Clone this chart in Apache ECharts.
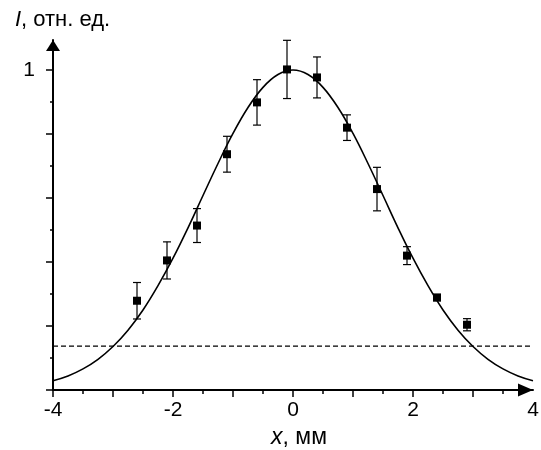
<!DOCTYPE html>
<html>
<head>
<meta charset="utf-8">
<script src="https://cdn.jsdelivr.net/npm/echarts@6/dist/echarts.min.js"></script>
<style>
  html, body { margin: 0; padding: 0; background: #fff; }
  #chart { width: 541px; height: 450px; }
</style>
</head>
<body>
<div id="chart"></div>
<script>
// Measured points
var pointX = [-2.6, -2.1, -1.6, -1.1, -0.6, -0.1, 0.4, 0.9, 1.4, 1.9, 2.4, 2.9];
var pointY = [0.279, 0.405, 0.514, 0.737, 0.899, 1.002, 0.977, 0.820, 0.628, 0.420, 0.289, 0.204];
var pointErr = [0.057, 0.058, 0.053, 0.056, 0.071, 0.091, 0.064, 0.040, 0.068, 0.028, 0.010, 0.019];

// Fitted curve
var curveX = [-4, -3.75, -3.5, -3.25, -3, -2.75, -2.5, -2.25, -2, -1.75, -1.5, -1.25, -1, -0.75, -0.5, -0.25,
              0, 0.25, 0.5, 0.75, 1, 1.25, 1.5, 1.75, 2, 2.25, 2.5, 2.75, 3, 3.25, 3.5, 3.75, 4];
var curveY = [0.029, 0.044, 0.066, 0.096, 0.136, 0.187, 0.250, 0.326, 0.412, 0.507, 0.608, 0.708, 0.802, 0.883, 0.946, 0.986,
              1.000, 0.986, 0.946, 0.883, 0.802, 0.708, 0.608, 0.507, 0.412, 0.326, 0.250, 0.187, 0.136, 0.096, 0.066, 0.044, 0.029];

// Dashed level (1/e^2)
var levelX = [-4, 4];
var levelY = 0.137;

// Tick values
var xMajorTicks = [-4, -3, -2, -1, 0, 1, 2, 3];
var xMinorTicks = [-3.5, -2.5, -1.5, -0.5, 0.5, 1.5, 2.5, 3.5];
var xTickLabels = [-4, -2, 0, 2, 4];
var yMajorTicks = [0, 0.2, 0.4, 0.6, 0.8, 1.0];
var yMinorTicks = [0.1, 0.3, 0.5, 0.7, 0.9];
var yTickLabels = [1];

var FONT = '"Liberation Sans", Arial, sans-serif';

var curveData = curveX.map(function (x, i) { return [x, curveY[i]]; });
var pointData = pointX.map(function (x, i) { return [x, pointY[i]]; });
var errData = pointX.map(function (x, i) { return [x, pointY[i], pointErr[i]]; });
var levelData = levelX.map(function (x) { return [x, levelY]; });

var chart = echarts.init(document.getElementById('chart'), null, { renderer: 'canvas' });

var X_MIN = -4, X_MAX = 4, Y_MIN = 0, Y_MAX = 1.094;

chart.setOption({
  animation: false,
  backgroundColor: '#ffffff',
  grid: { left: 53, right: 8, top: 40, bottom: 60, containLabel: false, outerBoundsMode: 'none' },
  xAxis: [{
    type: 'value', min: X_MIN, max: X_MAX, position: 'bottom',
    axisLine: { show: true, onZero: false, symbol: ['none', 'triangle'], symbolSize: [13, 15], symbolOffset: [0, -7.5],
                lineStyle: { color: '#000', width: 2 } },
    axisTick: { show: true, inside: false, length: 7, customValues: xMajorTicks, lineStyle: { color: '#000', width: 1.5 } },
    axisLabel: { show: true, customValues: xTickLabels, margin: 10, color: '#000', fontSize: 21, fontFamily: FONT,
                 formatter: function (v) { return String(v); } },
    splitLine: { show: false },
    name: '{i|x}, мм', nameLocation: 'middle', nameGap: 36,
    nameTextStyle: { color: '#000', fontSize: 23, fontFamily: FONT, padding: [0, 0, 0, 12],
                     rich: { i: { fontStyle: 'italic', fontSize: 23, fontFamily: FONT, color: '#000' } } }
  }, {
    type: 'value', min: X_MIN, max: X_MAX, position: 'bottom', gridIndex: 0,
    axisLine: { show: false, onZero: false },
    axisTick: { show: true, inside: false, length: 4, customValues: xMinorTicks, lineStyle: { color: '#000', width: 1.5 } },
    axisLabel: { show: false },
    splitLine: { show: false }
  }],
  yAxis: [{
    type: 'value', min: Y_MIN, max: Y_MAX, position: 'left',
    axisLine: { show: true, onZero: false, symbol: ['none', 'triangle'], symbolSize: [14, 11], symbolOffset: [0, -5.5],
                lineStyle: { color: '#000', width: 2 } },
    axisTick: { show: true, inside: false, length: 7, customValues: yMajorTicks, lineStyle: { color: '#000', width: 1.5 } },
    axisLabel: { show: true, customValues: yTickLabels, margin: 18, color: '#000', fontSize: 21, fontFamily: FONT,
                 formatter: function (v) { return String(v); } },
    splitLine: { show: false },
    name: '{i|I}, отн. ед.', nameLocation: 'end', nameGap: 9,
    nameTextStyle: { color: '#000', fontSize: 22, fontFamily: FONT, padding: [0, 0, 0, 19],
                     rich: { i: { fontStyle: 'italic', fontSize: 22, fontFamily: FONT, color: '#000' } } }
  }, {
    type: 'value', min: Y_MIN, max: Y_MAX, position: 'left', gridIndex: 0,
    axisLine: { show: false, onZero: false },
    axisTick: { show: true, inside: false, length: 3, customValues: yMinorTicks, lineStyle: { color: '#000', width: 1.5 } },
    axisLabel: { show: false },
    splitLine: { show: false }
  }],
  series: [{
    type: 'line', name: 'level', data: levelData, xAxisIndex: 0, yAxisIndex: 0,
    symbol: 'none', lineStyle: { color: '#000', width: 1.2, type: [5, 3] }, silent: true, z: 2
  }, {
    type: 'line', name: 'fit', data: curveData, xAxisIndex: 0, yAxisIndex: 0,
    symbol: 'none', smooth: 0.4, lineStyle: { color: '#000', width: 1.6 }, silent: true, z: 3
  }, {
    type: 'custom', name: 'errors', data: errData, xAxisIndex: 0, yAxisIndex: 0, z: 4,
    renderItem: function (params, api) {
      var x = api.value(0), y = api.value(1), e = api.value(2);
      var top = api.coord([x, y + e]);
      var bot = api.coord([x, y - e]);
      var cap = 4;
      var st = { stroke: '#000', lineWidth: 1.2 };
      return {
        type: 'group',
        children: [
          { type: 'line', shape: { x1: top[0], y1: top[1], x2: bot[0], y2: bot[1] }, style: st },
          { type: 'line', shape: { x1: top[0] - cap, y1: top[1], x2: top[0] + cap, y2: top[1] }, style: st },
          { type: 'line', shape: { x1: bot[0] - cap, y1: bot[1], x2: bot[0] + cap, y2: bot[1] }, style: st }
        ]
      };
    }
  }, {
    type: 'scatter', name: 'points', data: pointData, xAxisIndex: 0, yAxisIndex: 0,
    symbol: 'rect', symbolSize: 8, itemStyle: { color: '#000', opacity: 1 }, z: 5
  }]
});
</script>
</body>
</html>
